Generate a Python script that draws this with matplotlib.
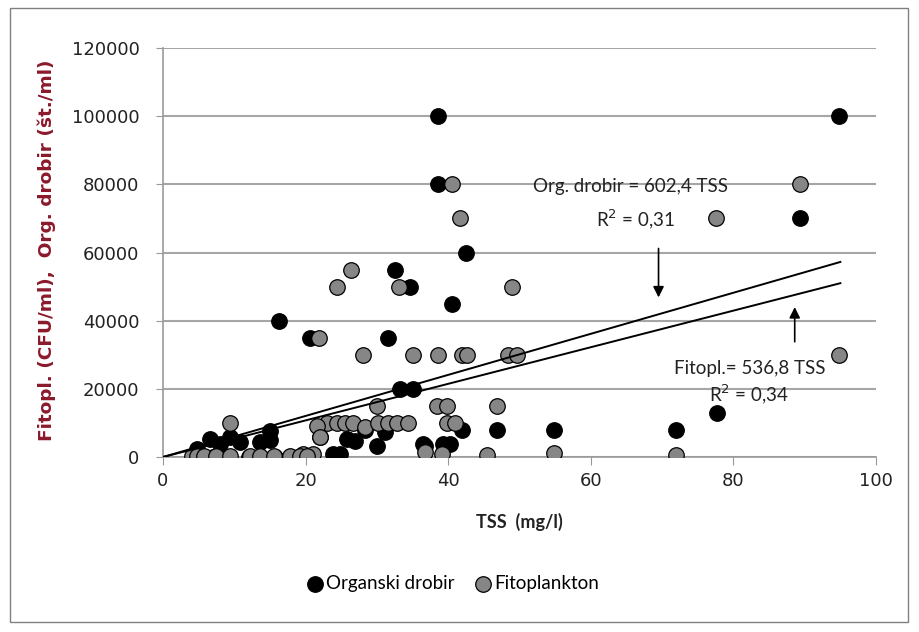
import numpy as np
import matplotlib
matplotlib.use("Agg")
import matplotlib.pyplot as plt
from matplotlib import patches

# TSS (mg/l) vs organic debris (black)
drobir_x = [38.5, 94.8, 38.6, 89.3, 42.5, 32.6, 34.6, 40.5, 16.3, 20.6, 31.5,
            33.2, 35.1, 77.7, 46.8, 54.8, 71.9, 41.9, 40.3, 36.5, 39.3, 31.1,
            30.0, 26.9, 25.8, 22.0, 23.9, 24.8, 15.0, 15.0, 13.6, 10.8, 9.4,
            8.0, 6.6, 4.7, 4.3, 15.7, 5.5, 7.0, 12.0, 18.0, 28.3, 36.7]
drobir_y = [100000, 100000, 80000, 70000, 60000, 55000, 50000, 45000, 40000,
            35000, 35000, 20000, 20000, 13000, 8000, 8000, 8000, 8000, 3800,
            3800, 3800, 7200, 3300, 4800, 5300, 5800, 900, 900, 7700, 5000,
            4300, 4300, 5800, 3800, 5300, 2300, 0, 0, 0, 0, 0, 0, 8000, 3300]

# TSS (mg/l) vs phytoplankton (grey)
fito_x = [40.5, 89.3, 41.6, 77.6, 26.3, 24.4, 33.1, 48.9, 21.9, 28.0, 35.1,
          38.5, 41.9, 42.6, 48.4, 49.6, 94.8, 30.0, 38.4, 39.8, 46.8, 9.4,
          23.0, 24.4, 25.5, 26.7, 28.3, 30.2, 31.6, 32.8, 34.4, 39.8, 41.0,
          21.6, 22.0, 36.7, 39.1, 45.4, 54.8, 71.9, 19.7, 21.1, 4.0, 4.7,
          5.7, 7.5, 9.4, 12.2, 13.6, 15.5, 17.8, 19.2, 20.2]
fito_y = [80000, 80000, 70000, 70000, 55000, 50000, 50000, 50000, 35000,
          30000, 30000, 30000, 30000, 30000, 30000, 30000, 30000, 15000,
          15000, 15000, 15000, 10000, 10000, 10000, 10000, 10000, 8800,
          10000, 10000, 10000, 10000, 10000, 10000, 9000, 6000, 1400, 900,
          600, 1200, 600, 1000, 1000, 400, 400, 400, 400, 400, 400, 400,
          400, 400, 400, 400]

slope_drobir = 602.4
slope_fito = 536.8

fig = plt.figure(figsize=(9.19, 6.32), dpi=100)
ax = fig.add_axes([163/919, 1-457/632, (876-163)/919, (457-48)/632])

#outer frame round the whole chart
fig.patches.append(patches.Rectangle((10/919, 1-622/632), 898/919, 614/632,
                                     transform=fig.transFigure, fill=False,
                                     edgecolor="#808080", linewidth=1))

ax.scatter(drobir_x, drobir_y, s=125, c="black", edgecolors="black",
           linewidths=0.9, zorder=3, label="Organski drobir")
ax.scatter(fito_x, fito_y, s=125, c="#868686", edgecolors="black",
           linewidths=0.9, zorder=4, label="Fitoplankton")

#trendlines through origin
tx = np.array([0, 95])
ax.plot(tx, slope_drobir*tx, color="black", lw=1.4, zorder=5)
ax.plot(tx, slope_fito*tx, color="black", lw=1.4, zorder=5)

ax.set_xlim(0, 100)
ax.set_ylim(0, 120000)
ax.set_xticks(range(0, 101, 20))
ax.set_yticks(range(0, 120001, 20000))
ax.yaxis.grid(True, color="#a6a6a6", lw=1.5)
ax.set_axisbelow(True)
for s in ["top", "right"]:
    ax.spines[s].set_visible(False)
for s in ["left", "bottom"]:
    ax.spines[s].set_color("#999999")
    ax.spines[s].set_linewidth(1.2)
ax.tick_params(axis="x", direction="out", length=6, color="#999999", pad=5,
               labelsize=13, labelcolor="#222222")
ax.tick_params(axis="y", direction="out", length=5, color="#999999", pad=12,
               labelsize=13, labelcolor="#222222")

ax.annotate("", xy=(69.5, 46000), xytext=(69.5, 62000),
            arrowprops=dict(arrowstyle="-|>", color="black", lw=1.2,
                            mutation_scale=16), zorder=6)
ax.annotate("", xy=(88.6, 44800), xytext=(88.6, 33000),
            arrowprops=dict(arrowstyle="-|>", color="black", lw=1.2,
                            mutation_scale=16), zorder=6)

ax.text(65.5, 79500, "Org. drobir = 602,4 TSS", family="Lato", fontsize=13.5,
        ha="center", va="center", color="#222222", zorder=6)
ax.text(66.3, 69700, "R$^2$ = 0,31", family="Lato", fontsize=13.5,
        ha="center", va="center", color="#222222", zorder=6)
ax.text(82.3, 26000, "Fitopl.= 536,8 TSS", family="Lato", fontsize=13.5,
        ha="center", va="center", color="#222222", zorder=6)
ax.text(82.2, 18500, "R$^2$ = 0,34", family="Lato", fontsize=13.5,
        ha="center", va="center", color="#222222", zorder=6)

fig.text(519/919, 1-522/632, "TSS  (mg/l)", family="Lato", fontsize=13,
         fontweight="bold", ha="center", va="center", color="#222222")
fig.text(47/919, 1-250/632, "Fitopl. (CFU/ml),  Org. drobir (\u0161t./ml)",
         fontsize=13.3, fontweight="bold", rotation=90, ha="center",
         va="center", color="#8b1a2b")

fig.legend(loc="center left", bbox_to_anchor=(298/919, 1-583/632), ncol=2,
           frameon=False, prop={"family": "Lato", "size": 13.5},
           handletextpad=0.1, columnspacing=1.0, handlelength=1.0,
           borderaxespad=0)

fig.savefig("out.png", dpi=100)
